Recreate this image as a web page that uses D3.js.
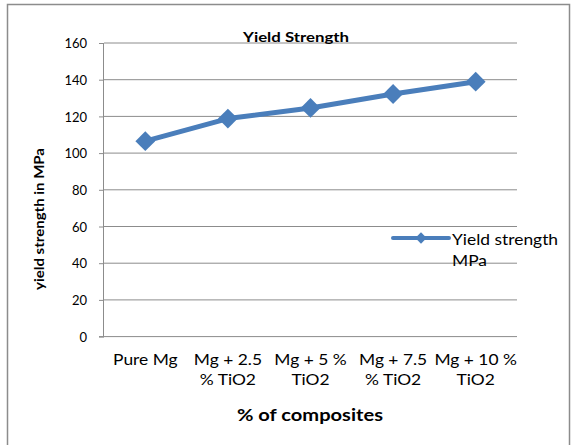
<!DOCTYPE html>
<html><head><meta charset="utf-8">
<script src="https://cdn.jsdelivr.net/npm/d3@7"></script>
<style>body{margin:0;background:#fff}svg{display:block}text{font-family:Lato,"Open Sans",sans-serif;fill:#000}</style>
</head><body>
<svg id="c" width="579" height="445"></svg>
<script>
const categories = [["Pure Mg"], ["Mg + 2.5", "% TiO2"], ["Mg + 5 %", "TiO2"], ["Mg + 7.5", "% TiO2"], ["Mg + 10 %", "TiO2"]];
const values = [106.5, 118.8, 124.6, 132.2, 138.9];
const yTicks = [0, 20, 40, 60, 80, 100, 120, 140, 160];
const seriesName = ["Yield strength", "MPa"];

const svg = d3.select("#c");
const L = 104, R = 517, T = 43, B = 336.6;
const color = "#4a7ebb", grid = "#8c8c8c";
const SX = 1.2; // horizontal stretch of the reference's text

svg.append("rect").attr("x", 7.5).attr("y", 4.5).attr("width", 562).attr("height", 460)
  .attr("fill", "#fff").attr("stroke", "#8c8c8c").attr("stroke-width", 1.5);

const x = d3.scaleBand().domain(d3.range(categories.length)).range([L, R]);
const y = d3.scaleLinear().domain([0, 160]).range([B, T]);

// gridlines
svg.append("g").selectAll("line").data(yTicks.filter(d => d > 0)).join("line")
  .attr("x1", L).attr("x2", R).attr("y1", d => y(d)).attr("y2", d => y(d))
  .attr("stroke", grid).attr("stroke-width", 1);

// y axis
const ya = svg.append("g").attr("transform", `translate(${L},0)`)
  .call(d3.axisLeft(y).tickValues(yTicks).tickSize(5).tickPadding(12));
ya.select(".domain").attr("stroke", grid).attr("d", `M-0.5,${T}V${B}`);
ya.selectAll(".tick line").attr("stroke", grid);
ya.selectAll(".tick text").style("font-size", "13px").attr("fill", "#000").attr("dy", "0.36em");

// x axis line
svg.append("line").attr("x1", L - 5).attr("x2", R).attr("y1", B).attr("y2", B)
  .attr("stroke", grid).attr("stroke-width", 1);

// x labels (one text per line, stretched like the reference)
const xg = svg.append("g").selectAll("g").data(categories).join("g")
  .attr("transform", (d, i) => `translate(${x(i) + x.bandwidth() / 2},0)`);
xg.selectAll("text").data(d => d).join("text")
  .attr("transform", (d, i) => `translate(0,${365 + i * 19.5}) scale(${SX},1)`)
  .attr("text-anchor", "middle").style("font-size", "14.5px").text(d => d);

// line
const pts = values.map((v, i) => [x(i) + x.bandwidth() / 2, y(v)]);
svg.append("path").attr("d", d3.line()(pts)).attr("fill", "none")
  .attr("stroke", color).attr("stroke-width", 5).attr("stroke-linejoin", "round");
svg.append("g").selectAll("rect").data(pts).join("rect")
  .attr("x", -7).attr("y", -7).attr("width", 14).attr("height", 14)
  .attr("transform", d => `translate(${d[0]},${d[1]}) rotate(45)`)
  .attr("fill", color);

// title
svg.append("text").attr("x", 243).attr("y", 42).attr("textLength", 106).attr("lengthAdjust", "spacingAndGlyphs")
  .style("font-size", "13px").style("font-weight", "bold").text("Yield Strength");

// y title
svg.append("text").attr("transform", "translate(44,219) rotate(-90)").attr("text-anchor", "middle")
  .attr("textLength", 142).attr("lengthAdjust", "spacingAndGlyphs")
  .style("font-size", "13.5px").style("font-weight", "bold").text("yield strength in MPa");

// x title
svg.append("text").attr("x", 237).attr("y", 421).attr("textLength", 146).attr("lengthAdjust", "spacingAndGlyphs")
  .style("font-size", "17px").style("font-weight", "bold").text("%  of composites");

// legend
svg.append("line").attr("x1", 393).attr("x2", 449).attr("y1", 238).attr("y2", 238)
  .attr("stroke", color).attr("stroke-width", 4).attr("stroke-linecap", "round");
svg.append("rect").attr("x", -4).attr("y", -4).attr("width", 8).attr("height", 8)
  .attr("transform", "translate(421,238) rotate(45)").attr("fill", color);
svg.append("g").selectAll("text").data(seriesName).join("text")
  .attr("transform", (d, i) => `translate(452,${245 + i * 21}) scale(${SX},1)`)
  .style("font-size", "14.5px").text(d => d);
</script>
</body></html>
